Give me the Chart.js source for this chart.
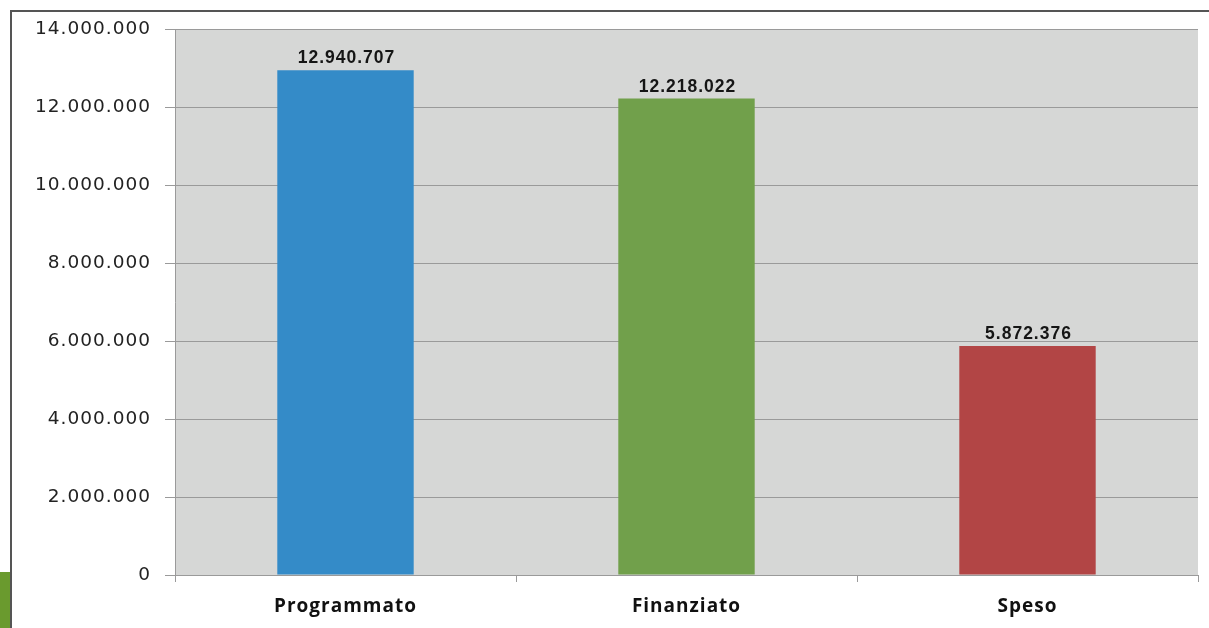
<!DOCTYPE html>
<html>
<head>
<meta charset="utf-8">
<script src="https://cdn.jsdelivr.net/npm/chart.js@4/dist/chart.umd.min.js"></script>
<style>
  html, body { margin: 0; padding: 0; background: #ffffff; }
  #wrap { width: 1209px; height: 628px; position: relative; }
</style>
</head>
<body>
<div id="wrap"><canvas id="c"></canvas></div>
<script>
// Categories and amounts (euro)
const categories = ['Programmato', 'Finanziato', 'Speso'];
const amounts = [12940707, 12218022, 5872376];
const barColors = ['#348bc8', '#71a04b', '#b24545'];
const yTickValues = [0, 2000000, 4000000, 6000000, 8000000, 10000000, 12000000, 14000000];

// Italian-style thousands separator
function fmt(v) {
  return String(Math.round(v)).replace(/\B(?=(\d{3})+(?!\d))/g, '.');
}

// Page frame: dark rule along the top and left, green tab bottom-left
const framePlugin = {
  id: 'frame',
  beforeDraw(chart) {
    const ctx = chart.ctx;
    ctx.save();
    ctx.fillStyle = '#ffffff';
    ctx.fillRect(0, 0, chart.width, chart.height);
    ctx.strokeStyle = '#555555';
    ctx.lineWidth = 2;
    ctx.beginPath();
    ctx.moveTo(11, chart.height);
    ctx.lineTo(11, 11);
    ctx.lineTo(chart.width, 11);
    ctx.stroke();
    ctx.fillStyle = '#6a9a2e';
    ctx.fillRect(0, 572, 10, chart.height - 572);
    // plot background
    const a = chart.chartArea;
    ctx.fillStyle = '#d6d7d6';
    ctx.fillRect(a.left, a.top, a.right - a.left, a.bottom - a.top);
    ctx.restore();
    chart.ctx.letterSpacing = '1px';
  }
};

// Value printed above each bar
const valueLabels = {
  id: 'valueLabels',
  afterDatasetsDraw(chart) {
    const ctx = chart.ctx;
    const meta = chart.getDatasetMeta(0);
    ctx.save();
    ctx.letterSpacing = '1px';
    ctx.font = 'bold 17.5px "Liberation Sans"';
    ctx.fillStyle = '#151515';
    ctx.textAlign = 'center';
    ctx.textBaseline = 'bottom';
    meta.data.forEach((bar, i) => {
      ctx.fillText(fmt(amounts[i]), bar.x + 1, bar.y - 3);
    });
    ctx.restore();
  }
};

new Chart(document.getElementById('c'), {
  type: 'bar',
  data: {
    labels: categories,
    datasets: [{
      data: amounts,
      backgroundColor: barColors,
      borderWidth: 0,
      categoryPercentage: 1.0,
      barPercentage: 0.4
    }]
  },
  options: {
    responsive: true,
    maintainAspectRatio: false,
    animation: false,
    devicePixelRatio: 1,
    layout: { padding: { top: 29, right: 11, left: 0, bottom: 0 } },
    plugins: {
      legend: { display: false },
      tooltip: { enabled: false }
    },
    scales: {
      x: {
        grid: {
          offset: true,
          drawOnChartArea: false,
          drawTicks: true,
          tickLength: 7,
          color: '#9a9a9a'
        },
        border: { color: '#9a9a9a', width: 1 },
        ticks: {
          color: '#111111',
          font: { family: '"Open Sans"', size: 19, weight: 'bold' },
          padding: 13
        },
        afterFit(scale) { scale.height = 53; }
      },
      y: {
        min: 0,
        max: 14000000,
        afterBuildTicks(scale) {
          scale.ticks = yTickValues.map(v => ({ value: v }));
        },
        grid: {
          color: '#9a9a9a',
          tickLength: 10,
          lineWidth: 1
        },
        border: { color: '#9a9a9a', width: 1 },
        ticks: {
          color: '#222222',
          font: { family: '"DejaVu Sans"', size: 18.5 },
          padding: 14,
          callback: (v) => fmt(v)
        },
        afterFit(scale) { scale.width = 175; }
      }
    }
  },
  plugins: [framePlugin, valueLabels]
});
</script>
</body>
</html>
